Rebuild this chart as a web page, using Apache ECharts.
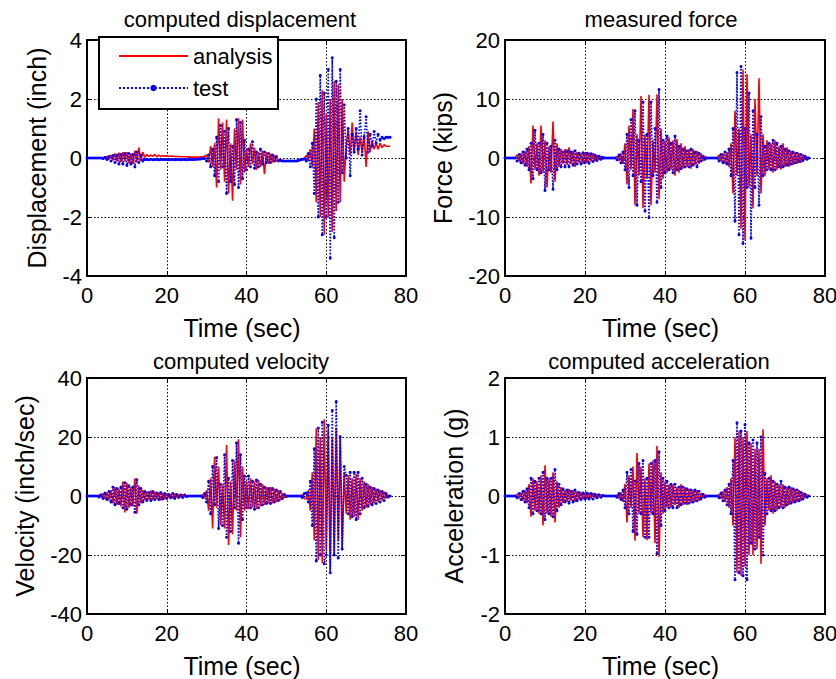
<!DOCTYPE html>
<html><head><meta charset="utf-8">
<script src="https://cdn.jsdelivr.net/npm/echarts@6/dist/echarts.min.js"></script>
<style>html,body{margin:0;padding:0;background:#fff}#c{width:836px;height:679px}</style>
</head><body><div id="c"></div>
<script>
// sample times (sec)
const timeSec = [
 0,0.5,1,1.5,2,2.5,3,3.5,4,4.5, 5,5.5,6,6.5,7,7.5,8,8.5,9,9.5,
 10,10.5,11,11.5,12,12.5,13,13.5,14,14.5, 15,15.5,16,16.5,17,17.5,18,18.5,19,19.5,
 20,20.5,21,21.5,22,22.5,23,23.5,24,24.5, 25,25.5,26,26.5,27,27.5,28,28.5,29,29.5,
 30,30.5,31,31.5,32,32.5,33,33.5,34,34.5, 35,35.5,36,36.5,37,37.5,38,38.5,39,39.5,
 40,40.5,41,41.5,42,42.5,43,43.5,44,44.5, 45,45.5,46,46.5,47,47.5,48,48.5,49,49.5,
 50,50.5,51,51.5,52,52.5,53,53.5,54,54.5, 55,55.5,56,56.5,57,57.5,58,58.5,59,59.5,
 60,60.5,61,61.5,62,62.5,63,63.5,64,64.5, 65,65.5,66,66.5,67,67.5,68,68.5,69,69.5,
 70,70.5,71,71.5,72,72.5,73,73.5,74,74.5, 75,75.5,76];

const xTicks = [0,20,40,60,80];
const dispTicks = [-4,-2,0,2,4];
const forceTicks = [-20,-10,0,10,20];
const velTicks = [-40,-20,0,20,40];
const accTicks = [-2,-1,0,1,2];

const dispAnalysis = [
 0,0,0,0,0,0,0,0,0.02,-0.03, 0.06,-0.05,0.1,-0.08,0.15,-0.12,0.18,-0.15,0.2,-0.1,
 0.2,-0.18,0.15,-0.2,0.25,-0.15,0.35,-0.1,0.2,0.02, 0.12,0.05,0.1,0.06,0.12,0.04,0.1,0.05,0.08,0.06,
 0.08,0.05,0.07,0.06,0.05,0.05,0.05,0.04,0.04,0.04, 0.04,0.03,0.03,0.03,0.03,0.03,0.03,0.04,0.04,0.06,
 0.1,-0.15,0.4,-0.3,0.5,-1.0,1.35,-0.4,1.2,-0.8, 1.3,-1.2,0.5,-1.45,1.0,-0.4,1.35,-0.9,1.3,-0.5,
 0.3,-0.3,0.5,-0.2,0.35,-0.4,0.2,-0.3,0.25,-0.55, 0.2,-0.2,0.15,-0.15,0.1,-0.12,-0.05,-0.1,-0.08,-0.1,
 -0.1,-0.1,-0.1,-0.1,-0.1,-0.1,-0.1,-0.08,-0.05,-0.02, 0.1,-0.1,0.3,-0.3,1.0,-1.5,1.9,-2.0,2.3,-2.6,
 1.5,-2.0,2.0,-2.5,2.6,-1.8,2.5,-1.5,2.0,-0.8, 0.4,1.0,0.1,1.2,0.2,0.9,0.1,0.7,0.2,0.8,
 -0.3,0.9,0.2,0.6,0.3,0.5,0.3,0.5,0.35,0.45, 0.4,0.4,0.4];
const dispTest = [
 0,0,0,0,0,0,0,0,-0.02,0.02, -0.05,0.05,-0.1,0.08,-0.15,0.1,-0.2,0.12,-0.2,0.15,
 -0.25,0.15,-0.2,0.12,-0.3,0.2,-0.15,0.1,-0.1,-0.05, -0.05,-0.06,-0.04,-0.06,-0.05,-0.05,-0.06,-0.05,-0.05,-0.05,
 -0.05,-0.06,-0.05,-0.05,-0.06,-0.05,-0.05,-0.06,-0.05,-0.05, -0.06,-0.05,-0.05,-0.05,-0.05,-0.04,-0.04,-0.03,-0.02,-0.02,
 -0.1,0.1,-0.3,0.3,-0.6,0.7,-0.8,1.1,-0.3,0.9, -1.2,1.0,-0.8,0.4,-0.9,1.3,-1.0,1.2,-0.7,0.6,
 -0.4,0.3,-0.3,0.55,-0.35,0.2,-0.3,0.3,-0.2,0.2, -0.15,0.15,-0.15,0.1,-0.1,0.05,-0.1,-0.08,-0.1,-0.1,
 -0.1,-0.1,-0.1,-0.1,-0.1,-0.1,-0.08,-0.06,-0.05,-0.03, -0.1,0.15,-0.3,0.5,-1.2,2.0,-2.0,2.8,-2.6,2.2,
 -2.0,3.0,-3.4,3.4,-2.7,2.6,-1.5,3.0,-0.5,1.8, 0.0,1.0,-0.6,0.8,0.2,1.0,0.3,1.6,0.1,0.7,
 1.4,0.2,0.8,0.4,0.9,0.5,0.8,0.6,0.7,0.65, 0.7,0.7,0.7];

const forceAnalysis = [
 0,0,0,0,0,0,0.5,-0.6,0.8,-1.0, 1.2,-1.5,2.0,-4.3,5.5,-2.0,2.5,-3.0,5.5,-2.5,
 3.0,-5.0,2.0,-2.5,6.2,-4.0,2.5,-1.5,1.5,-1.0, 1.5,-1.2,1.8,-1.0,1.2,-1.5,1.0,-0.8,0.8,-1.0,
 1.0,-0.8,0.9,-0.6,0.8,-0.5,0.5,-0.3,0.3,-0.2, 0,0,0,0,0,0,0.3,-0.5,0.8,-1.0,
 2.5,-4.5,5.5,-2.0,8.3,-8.0,4.0,-3.0,10.5,-8.5, 4.0,-3.5,10.7,-8.0,3.0,-2.5,10.8,-7.0,5.0,-3.5,
 3.0,-2.5,3.5,-2.0,3.0,-3.0,3.2,-2.5,2.5,-1.8, 2.0,-1.5,1.5,-1.8,1.5,-1.2,1.2,-1.0,0.8,-0.5,
 0.3,0,0,0,0,0,0,0.5,-0.6,0.8, -1.0,1.0,-1.5,2.5,-6.0,8.0,-3.0,5.0,-12.0,15.0,
 -14.0,14.2,-5.0,4.0,-8.5,10.0,-3.0,13.5,-6.0,4.0, -3.0,3.0,-2.0,2.5,-2.5,3.0,-2.0,2.0,-2.0,2.5,
 -1.5,1.8,-1.5,1.2,-1.2,1.0,-1.0,0.8,-0.8,0.6, -0.3,0.2,0];
const forceTest = [
 0,0,0,0,0,0,-0.5,0.6,-0.8,1.0, -1.2,1.5,-2.0,2.5,-3.5,4.7,-2.0,2.5,-2.5,4.0,
 -5.5,2.5,-2.0,2.0,-5.3,3.0,-2.0,1.5,-1.5,1.0, -1.5,1.2,-1.5,1.0,-1.2,1.2,-1.0,0.8,-1.0,0.9,
 -0.8,0.8,-0.9,0.7,-0.6,0.5,-0.4,0.3,-0.2,0.1, 0,0,0,0,0,0,-0.3,0.5,-0.8,1.0,
 -2.0,4.0,-5.0,6.5,-3.0,8.0,-8.0,3.0,-4.0,9.5, -9.0,4.0,-10.1,9.5,-3.0,5.0,-7.5,11.6,-5.0,3.0,
 -2.5,3.7,-2.0,2.5,-2.5,3.7,-2.0,2.0,-1.8,1.5, -1.5,1.2,-1.5,1.5,-1.2,1.0,-1.5,0.8,-0.5,0.3,
 -0.2,0,0,0,0,0,0,-0.5,0.6,-0.8, 1.0,-1.0,1.5,-3.0,5.0,-10.7,14.5,-13.0,15.5,-14.5,
 5.0,-5.0,11.0,-13.6,8.0,-5.0,4.0,-8.0,7.0,-3.0, 2.0,-2.0,2.5,-2.0,3.0,-2.0,2.5,-1.5,2.0,-1.5,
 1.5,-1.2,1.2,-1.0,1.0,-0.8,0.8,-0.6,0.6,-0.4, 0.3,-0.2,0];

const velAnalysis = [
 0,0,0,0,0,0,0.3,-0.4,0.8,-1.0, 1.2,-1.5,2.0,-2.5,3.0,-3.0,2.5,-3.5,4.9,-5.6,
 4.5,-4.0,3.0,-3.5,6.0,-6.0,3.5,-2.5,2.0,-1.5, 1.5,-1.2,1.8,-1.5,1.5,-1.0,1.2,-1.5,1.0,-1.0,
 0.8,-0.5,0.6,-0.8,0.8,-0.5,0.5,-0.3,0.5,-0.3, 0.2,0,0,0,0,0,0,0,0.5,-0.8,
 2.0,-5.0,6.0,-11.0,13.3,-4.0,10.0,-10.0,4.0,-11.0, 17.3,-16.6,5.0,-13.0,12.0,-5.0,19.2,-14.0,10.0,-5.0,
 5.0,-4.5,6.0,-4.0,5.0,-4.5,5.5,-3.5,4.0,-3.0, 3.0,-2.5,3.0,-2.5,2.5,-2.0,2.0,-1.5,1.0,-0.5,
 0.3,0,0,0,0,0,0,0,0.5,-0.8, -1.0,2.0,-5.0,8.0,-15.0,23.0,-21.7,20.0,-22.8,26.0,
 -18.0,22.0,-25.0,20.0,-20.0,23.0,-15.0,20.7,-18.0,8.0, -6.0,7.0,-8.0,6.0,-7.0,7.5,-8.0,6.0,-5.0,5.0,
 -4.0,4.0,-3.0,3.0,-2.5,2.5,-2.0,2.0,-1.5,1.5, -0.8,0.3,0];
const velTest = [
 0,0,0,0,0,0,-0.3,0.4,-0.8,1.0, -1.2,1.5,-2.0,3.0,-3.0,2.5,-2.5,3.0,-4.0,4.5,
 -4.5,3.5,-3.0,3.0,-5.5,5.5,-3.0,2.5,-2.0,1.5, -1.5,1.2,-1.5,1.5,-1.2,1.0,-1.2,1.2,-1.0,0.8,
 -0.8,0.5,-0.6,0.8,-0.8,0.5,-0.5,0.3,-0.5,0.3, -0.2,0,0,0,0,0,0,0,-0.5,0.8,
 -2.0,5.0,-6.0,10.0,-3.0,13.0,-11.0,4.0,-10.0,14.0, -14.0,6.0,-12.0,12.0,-4.0,18.0,-16.0,14.0,-8.0,6.8,
 -4.0,6.8,-4.0,5.0,-4.5,5.4,-4.0,4.0,-3.0,3.0, -2.5,2.5,-2.5,2.5,-2.0,2.0,-1.5,1.5,-0.8,0.5,
 -0.2,0,0,0,0,0,0,0,-0.5,0.8, 1.0,-2.0,5.0,-10.0,16.0,-22.0,23.0,-20.0,25.0,-23.0,
 -20.0,24.0,-26.0,29.0,-20.0,32.0,-21.0,20.0,-18.0,10.0, 7.0,-6.0,8.0,-7.0,8.0,-8.0,8.0,-6.0,6.0,-4.0,
 4.0,-3.5,3.0,-3.0,2.5,-2.5,2.0,-2.0,1.5,-1.5, 0.8,-0.3,0];

const accAnalysis = [
 0,0,0,0,0,0,0.03,-0.04,0.06,-0.08, 0.1,-0.12,0.2,-0.35,0.3,-0.25,0.25,-0.3,0.35,-0.5,
 0.52,-0.3,0.3,-0.35,0.4,-0.45,0.25,-0.2,0.15,-0.12, 0.1,-0.1,0.12,-0.08,0.1,-0.1,0.08,-0.06,0.06,-0.05,
 0.06,-0.05,0.05,-0.04,0.05,-0.03,0.03,-0.02,0.02,-0.01, 0,0,0,0,0,0,0.02,-0.04,0.06,-0.1,
 0.2,-0.45,0.35,-0.2,0.5,-0.76,0.73,-0.3,0.5,-0.7, 0.3,-0.75,0.55,-0.3,0.6,-0.8,0.85,-1.03,0.4,-0.3,
 0.25,-0.2,0.2,-0.2,0.2,-0.15,0.15,-0.2,0.2,-0.15, 0.15,-0.15,0.12,-0.12,0.1,-0.1,0.1,-0.08,0.05,-0.03,
 0.02,0,0,0,0,0,0,0.03,-0.05,0.08, -0.1,0.15,-0.2,0.3,-0.5,1.0,-1.3,1.1,-1.35,1.0,
 -1.2,1.1,-1.0,0.9,-1.0,0.8,-0.9,0.8,-1.15,1.13, -0.5,0.3,-0.25,0.35,-0.3,0.25,-0.25,0.2,-0.2,0.2,
 -0.2,0.15,-0.15,0.15,-0.12,0.12,-0.1,0.1,-0.08,0.06, -0.03,0.02,0];
const accTest = [
 0,0,0,0,0,0,-0.03,0.04,-0.06,0.08, -0.1,0.12,-0.2,0.3,-0.3,0.25,-0.25,0.3,-0.3,0.4,
 -0.4,0.3,-0.3,0.3,-0.35,0.45,-0.25,0.2,-0.15,0.12, -0.1,0.1,-0.12,0.08,-0.1,0.1,-0.08,0.06,-0.06,0.05,
 -0.05,0.05,-0.05,0.04,-0.05,0.03,-0.03,0.02,-0.02,0.01, 0,0,0,0,0,0,-0.02,0.04,-0.06,0.1,
 -0.2,0.4,-0.3,0.45,-0.6,0.25,-0.65,0.55,-0.3,0.6, -0.7,0.3,-0.7,0.55,-0.3,0.6,-0.98,0.75,-0.5,0.3,
 -0.25,0.25,-0.2,0.2,-0.2,0.2,-0.2,0.15,-0.15,0.15, -0.12,0.12,-0.12,0.1,-0.1,0.1,-0.08,0.08,-0.05,0.03,
 -0.02,0,0,0,0,0,0,-0.03,0.05,-0.08, 0.1,-0.15,0.2,-0.3,0.6,-1.42,1.24,-1.3,1.1,-1.35,
 1.21,-1.42,0.9,-0.8,0.95,-0.9,0.9,-0.7,1.0,-1.0, 0.38,-0.3,0.3,-0.25,0.25,-0.25,0.2,-0.2,0.25,-0.2,
 0.15,-0.15,0.15,-0.12,0.12,-0.1,0.1,-0.08,0.06,-0.05, 0.03,-0.02,0];

const titles = ['computed displacement','measured force','computed velocity','computed acceleration'];
const yNames = ['Displacement (inch)','Force (kips)','Velocity (inch/sec)','Acceleration (g)'];
const xName = 'Time (sec)';
const seriesNames = ['analysis','test'];

const F = '"Liberation Sans", Arial, Helvetica, sans-serif';
const panels = [
  {ticks: dispTicks, a: dispAnalysis, t: dispTest, box:[87,40,319,236], yGap:38, tx:240, ty:19},
  {ticks: forceTicks, a: forceAnalysis, t: forceTest, box:[505,40,320,236], yGap:50, tx:661, ty:19},
  {ticks: velTicks, a: velAnalysis, t: velTest, box:[87,378,319,236], yGap:50, tx:241, ty:361},
  {ticks: accTicks, a: accAnalysis, t: accTest, box:[505,378,320,236], yGap:39, tx:659, ty:361}
];
const pair = arr => timeSec.map((x,i)=>[x, arr[i]]);

const grid=[], xAxis=[], yAxis=[], series=[], graphic=[];
const gridLine = {show:true, lineStyle:{color:'#000', type:[1.5,2], width:1}};
panels.forEach((p,i)=>{
  grid.push({left:p.box[0], top:p.box[1], width:p.box[2], height:p.box[3], show:true,
    borderColor:'#000', borderWidth:2, backgroundColor:'#fff', outerBoundsMode:'none'});
  const yMin=p.ticks[0], yMax=p.ticks[p.ticks.length-1], yInt=p.ticks[1]-p.ticks[0];
  const xMin=xTicks[0], xMax=xTicks[xTicks.length-1], xInt=xTicks[1]-xTicks[0];
  xAxis.push({gridIndex:i, type:'value', position:'bottom', min:xMin, max:xMax, interval:xInt,
    name:xName, nameLocation:'middle', nameGap:39,
    nameTextStyle:{fontSize:25, color:'#000', fontFamily:F, padding:[0,9,0,0]},
    axisLine:{show:true, onZero:false, lineStyle:{color:'#000', width:2}},
    axisTick:{show:true, inside:true, length:5, lineStyle:{color:'#000', width:1}},
    axisLabel:{fontSize:22, color:'#000', fontFamily:F, margin:8, showMinLabel:true, showMaxLabel:true},
    splitLine:gridLine});
  xAxis.push({gridIndex:i, type:'value', position:'top', min:xMin, max:xMax, interval:xInt,
    axisLine:{show:true, onZero:false, lineStyle:{color:'#000', width:2}},
    axisTick:{show:true, inside:true, length:5, lineStyle:{color:'#000', width:1}},
    axisLabel:{show:false}, splitLine:{show:false}});
  yAxis.push({gridIndex:i, type:'value', position:'left', min:yMin, max:yMax, interval:yInt,
    name:yNames[i], nameLocation:'middle', nameGap:p.yGap,
    nameTextStyle:{fontSize:25, color:'#000', fontFamily:F},
    axisLine:{show:true, onZero:false, lineStyle:{color:'#000', width:2}},
    axisTick:{show:true, inside:true, length:5, lineStyle:{color:'#000', width:1}},
    axisLabel:{fontSize:22, color:'#000', fontFamily:F, margin:5, showMinLabel:true, showMaxLabel:true},
    splitLine:gridLine});
  yAxis.push({gridIndex:i, type:'value', position:'right', min:yMin, max:yMax, interval:yInt,
    axisLine:{show:true, onZero:false, lineStyle:{color:'#000', width:2}},
    axisTick:{show:true, inside:true, length:5, lineStyle:{color:'#000', width:1}},
    axisLabel:{show:false}, splitLine:{show:false}});
  series.push({type:'line', name:seriesNames[0], xAxisIndex:2*i, yAxisIndex:2*i, data:pair(p.a),
    symbol:'none', lineStyle:{color:'#ff0000', width:1.6}, itemStyle:{color:'#ff0000'},
    z:3, silent:true, animation:false, emphasis:{disabled:true}});
  series.push({type:'line', name:seriesNames[1], xAxisIndex:2*i, yAxisIndex:2*i, data:pair(p.t),
    symbol:'circle', symbolSize:3, showSymbol:true,
    lineStyle:{color:'#0000ff', width:1.6, type:'dotted'}, itemStyle:{color:'#0000ff'},
    z:4, silent:true, animation:false, emphasis:{disabled:true}});
  graphic.push({type:'text', x:p.tx, y:p.ty, z:10,
    style:{text:titles[i], fontSize:22, fontFamily:F, fill:'#000', align:'center', verticalAlign:'middle'}});
});
graphic.push({type:'rect', z:50, shape:{x:99,y:37,width:179,height:72},
  style:{fill:'#fff', stroke:'#000', lineWidth:2}});

const chart = echarts.init(document.getElementById('c'), null, {renderer:'svg'});
chart.setOption({
  animation:false,
  backgroundColor:'#fff',
  grid, xAxis, yAxis, series, graphic,
  legend:{data:[{name:seriesNames[0], itemStyle:{opacity:0}}, {name:seriesNames[1]}],
    orient:'vertical', left:113, top:40, itemWidth:69, itemHeight:8, itemGap:10,
    selectedMode:false, z:60, textStyle:{fontSize:22, color:'#000', fontFamily:F}}
});
</script></body></html>
